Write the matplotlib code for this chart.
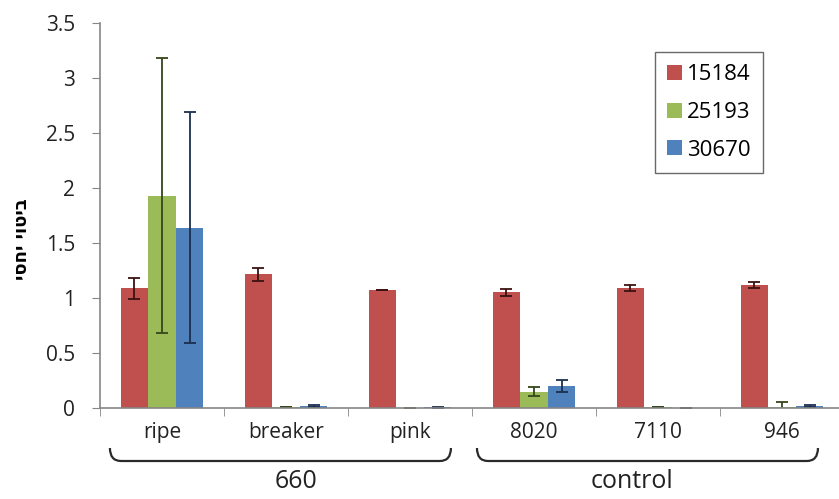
import matplotlib
matplotlib.use('Agg')
import matplotlib.pyplot as plt
import numpy as np
from matplotlib.path import Path
from matplotlib.patches import PathPatch
import matplotlib.transforms as mtransforms

# 데이터
categories = ['ripe', 'breaker', 'pink', '8020', '7110', '946']
series_names = ['15184', '25193', '30670']
s15184 = [1.09, 1.215, 1.073, 1.052, 1.09, 1.12]
e15184 = [0.095, 0.06, 0.004, 0.03, 0.03, 0.03]
s25193 = [1.93, 0.005, 0.003, 0.15, 0.008, 0.005]
e25193 = [1.25, 0.0, 0.0, 0.04, 0.0, 0.05]
s30670 = [1.64, 0.02, 0.005, 0.20, 0.004, 0.02]
e30670 = [1.05, 0.008, 0.004, 0.055, 0.0, 0.008]
groups = ['660', 'control']
ytick_vals = [0, 0.5, 1, 1.5, 2, 2.5, 3, 3.5]
ytick_labels = ['0', '0.5', '1', '1.5', '2', '2.5', '3', '3.5']
ylabel_he = 'ביטוי יחסי'

colors = ['#C0504D', '#9BBB59', '#4F81BD']
err_colors = ['#3b1212', '#34461a', '#1c2f4f']

plt.rcParams['font.family'] = ['Open Sans', 'DejaVu Sans']

fig = plt.figure(figsize=(8.39, 4.99), dpi=100)
ax = fig.add_axes([100/839, 91/499, 744/839, 385/499])

x = np.arange(len(categories)) + 0.5
w = 0.222
values = [s15184, s25193, s30670]
errors = [e15184, e25193, e30670]
for i in range(3):
    ax.bar(x + (i - 1) * w, values[i], w, color=colors[i], label=series_names[i],
           yerr=errors[i], error_kw=dict(ecolor=err_colors[i], elinewidth=1.3,
                                         capsize=4, capthick=1.3), zorder=2)

ax.set_xlim(0, 6)
ax.set_ylim(0, 3.5)
ax.set_yticks(ytick_vals)
ax.set_yticklabels(ytick_labels, fontsize=15, color='#222222')
ax.set_xticks(x)
ax.set_xticklabels(categories, fontsize=15, color='#222222')
ax.set_xticks(np.arange(0, 7), minor=True)
ax.tick_params(axis='x', which='major', length=0, pad=10)
ax.tick_params(axis='x', which='minor', length=6, color='#868686', direction='out')
ax.tick_params(axis='y', length=6, color='#868686', direction='out', pad=12)
for s in ['top', 'right']:
    ax.spines[s].set_visible(False)
for s in ['left', 'bottom']:
    ax.spines[s].set_color('#868686')
    ax.spines[s].set_linewidth(1.2)

# 세로축 제목 (히브리어, 시각적 순서로 뒤집기)
fig.text(0.026, 0.52, ylabel_he[::-1], rotation=90, ha='center', va='center',
         fontsize=13, fontweight='bold', family=['DejaVu Sans'])

# 범례
leg = fig.legend(loc='upper left', bbox_to_anchor=(655/839, 1 - 52/499),
                 bbox_transform=fig.transFigure, borderaxespad=0, fontsize=16,
                 frameon=True, fancybox=False, handlelength=0.65, handleheight=0.65,
                 handletextpad=0.25, labelspacing=0.75, borderpad=0.55)
leg.get_frame().set_edgecolor('#444444')
leg.get_frame().set_linewidth(1.0)

# 중괄호
trans = mtransforms.blended_transform_factory(ax.transData, ax.transAxes)
y_top = -40/385
y_bot = -53/385
r = 0.09
brace_x = [(0.08, 2.83), (3.04, 5.79)]
label_x = [1.58, 4.29]
for (x0, x1), gx, name in zip(brace_x, label_x, groups):
    verts = [(x0, y_top), (x0, y_bot), (x0 + r, y_bot), (x1 - r, y_bot),
             (x1, y_bot), (x1, y_top)]
    codes = [Path.MOVETO, Path.CURVE3, Path.CURVE3, Path.LINETO,
             Path.CURVE3, Path.CURVE3]
    patch = PathPatch(Path(verts, codes), transform=trans, fill=False,
                      edgecolor='#2a2a2a', linewidth=1.6, clip_on=False)
    ax.add_patch(patch)
    ax.text(gx, -74/385, name, transform=trans, ha='center', va='center',
            fontsize=18, color='#222222')

fig.savefig('out.png', dpi=100)
